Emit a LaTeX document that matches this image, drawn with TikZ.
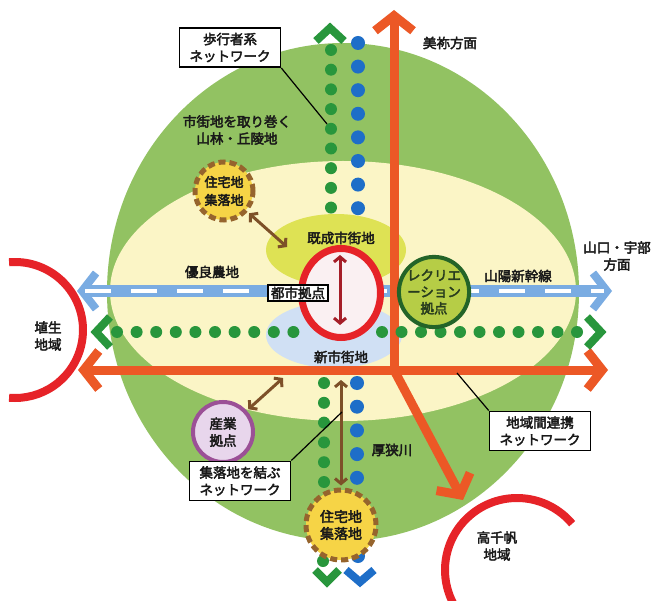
\documentclass[tikz,border=0pt]{standalone}
\usepackage{fontspec}
\setmainfont{Noto Sans CJK JP}[FakeBold=3]
\usetikzlibrary{arrows.meta}

\definecolor{hillgreen}{RGB}{146,194,98}
\definecolor{farmcream}{RGB}{251,245,198}
\definecolor{oldtown}{RGB}{222,226,84}
\definecolor{newtown}{RGB}{208,224,244}
\definecolor{railblue}{RGB}{122,172,226}
\definecolor{walkgreen}{RGB}{40,150,60}
\definecolor{riverblue}{RGB}{30,110,200}
\definecolor{linkorange}{RGB}{236,88,38}
\definecolor{regionred}{RGB}{230,35,40}
\definecolor{settlebrown}{RGB}{150,100,45}
\definecolor{settleyellow}{RGB}{246,212,70}
\definecolor{arrowbrown}{RGB}{125,80,40}
\definecolor{corered}{RGB}{165,30,40}
\definecolor{recgreen}{RGB}{35,100,40}
\definecolor{recfill}{RGB}{182,205,70}
\definecolor{induspurple}{RGB}{155,80,150}
\definecolor{indusfill}{RGB}{232,214,236}

\tikzset{
  lbl/.style={font=\fontsize{13.5}{17}\selectfont, align=center, text=black!90},
  labelbox/.style={lbl, draw=black, line width=1.6pt, fill=white, inner xsep=10pt, inner ysep=5pt},
  settle/.style={lbl, circle, inner sep=0pt, fill=settleyellow, draw=settlebrown, line width=5pt, dash pattern=on 7pt off 4pt},
  chev/.style={line width=8pt},
  link/.style={draw=linkorange, line width=9pt, >={Straight Barb[length=15pt,width=38pt]}},
  rail/.style={draw=railblue, line width=12pt, <->, >={Straight Barb[length=14pt,width=36pt,line width=8pt]}},
  raildash/.style={draw=white, line width=4pt, dash pattern=on 26pt off 20pt},
  tiearrow/.style={draw=arrowbrown, line width=3pt, <->, >={Straight Barb[length=5pt,width=12pt]}},
  region/.style={draw=regionred, line width=8pt},
  leader/.style={draw=black, line width=1.2pt}
}

\begin{document}
\begin{tikzpicture}[x=1pt,y=-1pt]
  \fill[white] (0,0) rectangle (655,601);
  \useasboundingbox (0,0) rectangle (655,601);

  % hills and farmland
  \fill[hillgreen] (343,292) ellipse [x radius=236, y radius=249];
  \fill[farmcream] (343,291) ellipse [x radius=233, y radius=130];

  % town areas
  \fill[oldtown] (336,250) ellipse [x radius=70, y radius=36];
  \fill[newtown] (334,335) ellipse [x radius=68, y radius=33];

  % walking network and river, north-south
  \foreach \y in {50,69.7,...,209} \fill[walkgreen] (331,\y) circle (6);
  \foreach \y in {383,402.8,...,485} \fill[walkgreen] (324,\y) circle (6);
  \fill[walkgreen] (323,561) circle (6);
  \foreach \y in {43,66.6,...,210} \fill[riverblue] (358,\y) circle (7);
  \foreach \y in {383,406.7,...,481} \fill[riverblue] (357,\y) circle (7);
  \fill[riverblue] (358,556) circle (7);
  \draw[chev, walkgreen] (316,41) -- (330,28) -- (344,41);
  \draw[chev, walkgreen] (315,570) -- (327,582) -- (339,570);
  \draw[chev, riverblue] (346,570) -- (360,582) -- (374,570);

  % shinkansen
  \coordinate (railW) at (77,291);
  \coordinate (railE) at (612,291);
  \draw[rail] (railW) -- (railE);
  \draw[raildash, shorten <=8pt, shorten >=8pt] (railW) -- (railE);

  % regional links
  \coordinate (hub) at (394,370);
  \coordinate (mine) at (394,10);
  \coordinate (westend) at (78,370);
  \coordinate (eastend) at (608,370);
  \coordinate (takachiho) at (463,500);
  \draw[link, ->] (hub) -- (mine);
  \draw[link, <->] (westend) -- (eastend);
  \draw[link, ->] (hub) -- (takachiho);

  % walking network, east-west
  \foreach \x in {117,136.6,...,295} \fill[walkgreen] (\x,332) circle (6);
  \foreach \x in {382,401.5,...,579} \fill[walkgreen] (\x,332) circle (6);
  \draw[chev, walkgreen] (110,317) -- (96,332) -- (110,347);
  \draw[chev, walkgreen] (587,317) -- (601,332) -- (587,347);

  % city core
  \draw[regionred, line width=7pt, fill={rgb,255:red,250;green,240;blue,242}] (341,293) ellipse [x radius=39.5, y radius=44.5];
  \coordinate (coreN) at (340,255);
  \coordinate (coreS) at (340,325);
  \draw[tiearrow, draw=corered] (coreN) -- (coreS);
  \node[labelbox, inner xsep=3pt, inner ysep=2pt] (corebox) at (298,293) {都市拠点};
  \node[lbl] (oldtownlbl) at (341,238) {既成市街地};
  \node[lbl] (newtownlbl) at (341,357) {新市街地};

  % bases
  \node[settle, minimum size=58pt, font=\fontsize{13}{18}\selectfont] (settleN) at (224,191) {住宅地\\集落地};
  \node[settle, minimum size=70pt, font=\fontsize{14}{17}\selectfont] (settleS) at (341,525) {住宅地\\集落地};
  \node[lbl, circle, inner sep=0pt, minimum size=60pt, fill=indusfill, draw=induspurple, line width=4pt] (indus) at (223,432) {産業\\拠点};
  \node[lbl, circle, inner sep=0pt, minimum size=67pt, fill=recfill, draw=recgreen, line width=4pt, text={rgb,255:red,40;green,60;blue,30}, font=\fontsize{13.5}{16.5}\selectfont] (recre) at (434,292) {レクリエ\\ーション\\拠点};

  % ties between bases
  \coordinate (oldtownW) at (287,247);
  \coordinate (linkW) at (283,378);
  \coordinate (linkS) at (341,380);
  \draw[tiearrow, shorten <=2pt] (settleN) -- (oldtownW);
  \draw[tiearrow, shorten <=2pt] (indus) -- (linkW);
  \draw[tiearrow, shorten <=2pt] (settleS) -- (linkS);

  % neighbouring regions
  \coordinate (hanyuC) at (15,330);
  \draw[region] (hanyuC) ++(-95:68) arc [start angle=-95, end angle=95, radius=68];
  \node[lbl] (hanyu) at (48,336) {埴生\\地域};
  \coordinate (takaC) at (517,570);
  \draw[region] (takaC) ++(-40:72) arc [start angle=-40, end angle=-245, radius=72];
  \node[lbl] (takalbl) at (497,546) {高千帆\\地域};

  % labels
  \node[lbl] (minelbl) at (450,43) {美祢方面};
  \node[lbl] (ubelbl) at (617,256) {山口・宇部\\方面};
  \node[lbl] (raillbl) at (518,276) {山陽新幹線};
  \node[lbl] (farmlbl) at (212,272) {優良農地};
  \node[lbl] (forestlbl) at (237,130) {市街地を取り巻く\\山林・丘陵地};
  \node[lbl] (riverlbl) at (392,450) {厚狭川};

  % network boxes
  \node[labelbox] (walkbox) at (230,47.5) {歩行者系\\ネットワーク};
  \node[labelbox] (villbox) at (240,481) {集落地を結ぶ\\ネットワーク};
  \node[labelbox] (regbox) at (540,431) {地域間連携\\ネットワーク};
  \coordinate (walkpt) at (327,124);
  \coordinate (villpt) at (342,412);
  \coordinate (linkpt) at (457,373);
  \draw[leader] (walkbox.south east) -- (walkpt);
  \draw[leader] (villbox.north east) -- (villpt);
  \draw[leader] (regbox.north west) -- (linkpt);
\end{tikzpicture}
\end{document}
